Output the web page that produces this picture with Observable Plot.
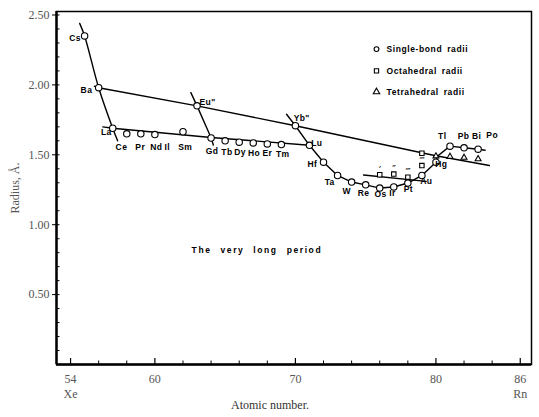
<!DOCTYPE html>
<html>
<head>
<meta charset="utf-8">
<script src="https://cdn.jsdelivr.net/npm/d3@7"></script>
<script src="https://cdn.jsdelivr.net/npm/@observablehq/plot@0.6"></script>
<style>
  html, body { margin: 0; padding: 0; background: #fff; }
  #chart svg { display: block; }
  .lbl text { letter-spacing: 0.4px; }
  .leg text { letter-spacing: 0.6px; word-spacing: 2px; }
  .spaced text { letter-spacing: 1.6px; word-spacing: 5px; }
</style>
</head>
<body>
<div id="chart"></div>
<script>
// ---- Data ----
const singleElements = ["Cs","Ba","La","Ce","Pr","Nd","Sm","Eu","Gd","Tb","Dy","Ho","Er","Tm","Yb","Lu","Hf","Ta","W","Re","Os","Ir","Pt","Au","Hg","Tl","Pb","Bi"];
const singleZ = [55,56,57,58,59,60,62,63,64,65,66,67,68,69,70,71,72,73,74,75,76,77,78,79,80,81,82,83];
const singleRadius = [2.35,1.98,1.69,1.65,1.65,1.645,1.665,1.85,1.62,1.60,1.59,1.585,1.578,1.573,1.708,1.568,1.447,1.352,1.305,1.285,1.262,1.27,1.298,1.352,1.447,1.562,1.55,1.54];

const octZ = [76,77,78,79,79];
const octRadius = [1.357,1.362,1.34,1.423,1.511];
const octMarks = ["\u2032","\u2033","\u2034","\u2034",""];

const tetZ = [80,81,82,83];
const tetRadius = [1.49,1.487,1.48,1.47];

// curves drawn through the points
const alkaliZ = [54.65,55,56,57,57.35];
const alkaliR = [2.44,2.35,1.98,1.69,1.60];
const divalentZ = [55.7,56,63,70,79.9,83.8];
const divalentR = [1.99,1.98,1.85,1.708,1.495,1.423];
const lanthanideZ = [56.3,57,64,71];
const lanthanideR = [1.70,1.69,1.624,1.568];
const europiumZ = [62.56,63,64,64.16];
const europiumR = [1.945,1.85,1.622,1.57];
const transitionZ = [69.37,70,71,72,73,74,75,76,77,78,79,80,80.1,81,82,83,83.5];
const transitionR = [1.79,1.708,1.568,1.447,1.352,1.305,1.285,1.262,1.27,1.298,1.352,1.447,1.49,1.562,1.55,1.54,1.533];
const octLineZ = [74.85,79.3];
const octLineR = [1.355,1.31];

// element labels (centre of label, in chart units)
const labelText = ["Cs","Ba","La","Ce","Pr","Nd","Il","Sm","Gd","Tb","Dy","Ho","Er","Tm","Eu\"","Yb\"","Lu","Hf","Ta","W","Re","Os","Ir","Pt","Au","Hg","Tl","Pb","Bi","Po"];
const labelZ = [54.32,55.13,56.55,57.62,58.96,60.1,60.88,62.16,64.07,65.13,66.06,67.05,68.0,69.1,63.75,70.45,71.52,71.2,72.44,73.65,74.85,76.06,76.91,78.04,79.32,80.38,80.45,81.96,82.9,84.0];
const labelR = [2.335,1.964,1.658,1.555,1.555,1.555,1.555,1.555,1.523,1.52,1.516,1.512,1.509,1.505,1.879,1.758,1.58,1.43,1.30,1.238,1.224,1.217,1.224,1.253,1.31,1.43,1.63,1.63,1.63,1.637];

const legendLabels = ["Single-bond radii","Octahedral radii","Tetrahedral radii"];
const legendSymbols = ["circle","square","triangle"];
const legendZ = 75.77;
const legendR = [2.256,2.10,1.95];

const periodText = "The very long period";
const periodZ = 67.26, periodR = 0.818;

const yMajorTicks = [0.5,1.0,1.5,2.0,2.5];
const yMinorTicks = d3.range(1,26).map(i => i/10);
const xMajorTicks = [54,60,70,80,86];
const xMajorLabels = ["54\nXe","60","70","80","86\nRn"];
const xMinorTicks = [56,58,62,64,66,68,72,74,76,78,82,84];

// ---- Build tables ----
const single = singleZ.map((z,i) => ({z, r: singleRadius[i], el: singleElements[i]}));
const oct = octZ.map((z,i) => ({z, r: octRadius[i], m: octMarks[i]}));
const tet = tetZ.map((z,i) => ({z, r: tetRadius[i]}));
const mk = (name, Z, R) => Z.map((z,i) => ({series: name, z, r: R[i]}));
const curves = [
  ...mk("divalent", divalentZ, divalentR),
  ...mk("lanthanide", lanthanideZ, lanthanideR),
  ...mk("europium", europiumZ, europiumR),
  ...mk("transition", transitionZ, transitionR),
  ...mk("oct", octLineZ, octLineR)
];
const alkali = mk("alkali", alkaliZ, alkaliR);
const labels = labelText.map((t,i) => ({t, z: labelZ[i], r: labelR[i]}));
const legend = legendLabels.map((t,i) => ({t, s: legendSymbols[i], r: legendR[i]}));

const W = 539, H = 417;
const mL = 56, mR = 8, mT = 11, mB = 53;
const plotW = W - mL - mR, plotH = H - mT - mB;
const sans = "Liberation Sans, Arial, sans-serif";
const serif = "Liberation Serif, DejaVu Serif, serif";

const chart = Plot.plot({
  width: W, height: H,
  marginLeft: mL, marginRight: mR, marginTop: mT, marginBottom: mB,
  style: {background: "#fff", color: "#000"},
  x: {domain: [53, 86.8]},
  y: {domain: [0, 2.525]},
  marks: [
    // minor / major ticks (inside)
    Plot.ruleY(yMinorTicks, {stroke: "#000", strokeWidth: 1, insetRight: plotW - 3.5}),
    Plot.ruleX(xMinorTicks, {stroke: "#000", strokeWidth: 1, insetTop: plotH - 3.5}),
    Plot.ruleX(xMajorTicks, {stroke: "#000", strokeWidth: 1.2, insetTop: plotH - 6}),
    Plot.axisY(yMajorTicks, {
      tickFormat: d3.format(".2f"), tickSize: 4, tickPadding: 3,
      fontFamily: serif, fontSize: 12, fill: "#555",
      label: "Radius, Å.", labelAnchor: "center", labelOffset: 46, labelArrow: "none"
    }),
    Plot.axisX(xMajorTicks, {
      tickFormat: (d,i) => xMajorLabels[i], tickSize: 0, tickPadding: 8,
      fontFamily: serif, fontSize: 12, fill: "#555", lineHeight: 1.25,
      label: null
    }),
    Plot.text(["Atomic number."], {frameAnchor: "bottom", dx: -24, dy: 44, fontFamily: serif, fontSize: 12, fill: "#333"}),
    Plot.frame({stroke: "#000", strokeWidth: 1.5}),
    Plot.ruleX([53], {stroke: "#000", strokeWidth: 2.4}),
    Plot.ruleY([0], {stroke: "#000", strokeWidth: 2.4}),
    // curves
    Plot.line(alkali, {x: "z", y: "r", curve: "catmull-rom", stroke: "#000", strokeWidth: 1.4}),
    Plot.line(curves, {x: "z", y: "r", z: "series", stroke: "#000", strokeWidth: 1.4}),
    // points
    Plot.dot(oct, {x: "z", y: "r", symbol: "square", r: 2.5, fill: "white", stroke: "#000", strokeWidth: 1.1}),
    Plot.text(oct, {x: "z", y: "r", text: "m", dy: -6, fontSize: 7, fontWeight: "bold", fill: "#000"}),
    Plot.dot(tet, {x: "z", y: "r", symbol: "triangle", r: 2.2, fill: "white", stroke: "#000", strokeWidth: 1.1}),
    Plot.dot(single, {x: "z", y: "r", r: 3.2, fill: "white", stroke: "#000", strokeWidth: 1.1}),
    // labels
    Plot.text(labels, {x: "z", y: "r", text: "t", fontFamily: sans, fontWeight: "bold", fontSize: 8.5, fill: "#000", className: "lbl"}),
    // legend
    Plot.dot(legend, {x: () => legendZ, y: "r", symbol: "s", r: 2.4, fill: "white", stroke: "#000", strokeWidth: 1.1}),
    Plot.text(legend, {x: () => legendZ, y: "r", text: "t", dx: 10, textAnchor: "start", fontFamily: sans, fontWeight: "bold", fontSize: 8.5, fill: "#000", className: "leg"}),
    Plot.text([periodText], {x: () => periodZ, y: () => periodR, fontFamily: sans, fontWeight: "bold", fontSize: 8.5, fill: "#000", className: "spaced"})
  ]
});
document.getElementById("chart").appendChild(chart);
</script>
</body>
</html>
